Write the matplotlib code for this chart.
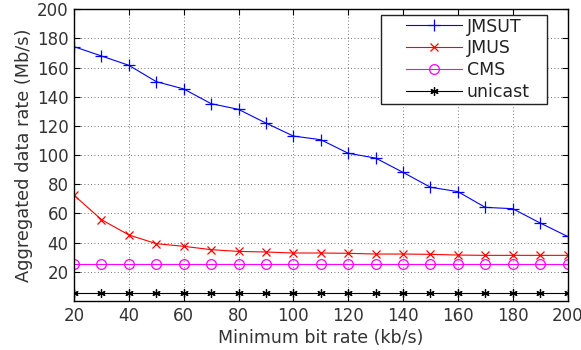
import matplotlib
matplotlib.use("Agg")
import matplotlib.pyplot as plt
from matplotlib.patches import Rectangle

x = [20, 30, 40, 50, 60, 70, 80, 90, 100, 110, 120, 130, 140, 150, 160, 170, 180, 190, 200]
jmsut = [174.4, 168, 161.6, 150.4, 145.4, 135.3, 131.4, 122, 113.1, 110.6, 101.3, 98, 88.2, 78, 75, 64.2, 63.3, 53.5, 44.3]
jmus = [72.5, 55.8, 45.3, 39.3, 37.5, 35.2, 34, 33.6, 32.9, 32.9, 32.7, 32.2, 32.2, 32, 31.5, 31.3, 31.3, 31.3, 31.3]
cms = [25.4] * 19
unicast = [5.3] * 19

W, H = 581, 350
fig = plt.figure(figsize=(W / 100, H / 100), dpi=100)
L, R, T, B = 74, 567.5, 9.3, 301
ax = fig.add_axes([L / W, 1 - B / H, (R - L) / W, (B - T) / H])

lw = 0.8
ax.plot(x, jmsut, color="blue", marker="+", markersize=9, mew=0.9, lw=lw, label="JMSUT")
ax.plot(x, jmus, color="red", marker="x", markersize=6, mew=0.9, lw=lw, label="JMUS")
ax.plot(x, cms, color="magenta", marker="o", markersize=7, mfc="none", mew=0.9, lw=lw, label="CMS")
ax.plot(x, unicast, color="black", marker=(6, 2, 0), markersize=6, mew=0.9, lw=lw, label="unicast")

ax.set_xlim(20, 200)
ax.set_ylim(0, 200)
ax.set_xticks(range(20, 201, 20))
ax.set_yticks(range(20, 201, 20))
ax.grid(True, linestyle=(0, (1, 3)), color="#444444", linewidth=0.6)
ax.tick_params(direction="in", top=True, right=True, labelsize=12, labelcolor="#333333",
               color="black", length=4, pad=4)
for s in ax.spines.values():
    s.set_linewidth(1.0)
ax.set_xlabel("Minimum bit rate (kb/s)", fontsize=12.5, color="#333333", labelpad=3)
ax.set_ylabel("Aggregated data rate (Mb/s)", fontsize=12.8, color="#333333", labelpad=3)

# legend frame
lx0, lx1, ly0, ly1 = 380.7, 546.7, 15, 104
fig.patches.append(Rectangle((lx0 / W, 1 - ly1 / H), (lx1 - lx0) / W, (ly1 - ly0) / H,
                             transform=fig.transFigure, facecolor="white", edgecolor="#222222",
                             linewidth=1.0, zorder=3))
leg = fig.legend(*ax.get_legend_handles_labels(), loc="upper left",
                 bbox_to_anchor=(406 / W, 1 - 17.5 / H), fontsize=12.5, frameon=False,
                 handlelength=3.2, borderpad=0, borderaxespad=0, labelspacing=0.22,
                 handletextpad=0.3)
leg.set_zorder(4)
for t in leg.get_texts():
    t.set_color("#222222")

fig.savefig("out.png", dpi=100)
